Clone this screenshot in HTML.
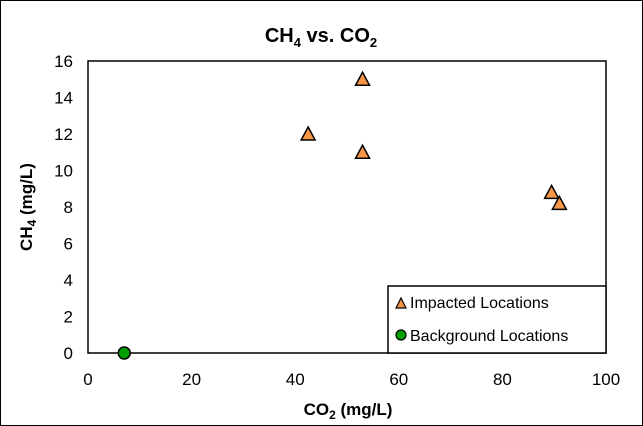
<!DOCTYPE html>
<html><head><meta charset="utf-8"><style>
html,body{margin:0;padding:0;background:#fff;}
svg{display:block;font-family:"Liberation Sans",Arial,sans-serif;}
</style></head><body>
<svg width="643" height="426" viewBox="0 0 643 426">
<rect x="0.5" y="0.5" width="642" height="425" fill="#fff" stroke="#000" stroke-width="1"/>
<text x="321" y="42" text-anchor="middle" font-size="20" font-weight="bold">CH<tspan font-size="13" dy="5">4</tspan><tspan dy="-5"> vs. CO</tspan><tspan font-size="13" dy="5">2</tspan></text>
<rect x="88" y="61" width="518" height="292" fill="none" stroke="#000" stroke-width="1.5"/>
<g id="xt"></g>
<g id="yt"></g>
<text x="348" y="415" text-anchor="middle" font-size="17" font-weight="bold">CO<tspan font-size="12" dy="4">2</tspan><tspan dy="-4"> (mg/L)</tspan></text>
<text transform="translate(32,207) rotate(-90)" text-anchor="middle" font-size="17" font-weight="bold">CH<tspan font-size="12" dy="4">4</tspan><tspan dy="-4"> (mg/L)</tspan></text>
<g id="marks"></g>
<g>
<rect x="388" y="286" width="218" height="67" fill="#fff" stroke="#000" stroke-width="1.5"/>
<polygon points="396,308 401,298 406,308" fill="#f79646" stroke="#000" stroke-width="1.2"/>
<text x="410" y="308" font-size="16">Impacted Locations</text>
<circle cx="401" cy="335" r="5" fill="#00a000" stroke="#000" stroke-width="1.2"/>
<text x="410" y="341" font-size="16">Background Locations</text>
</g>
</svg>
<script>
const xTicks=[0,20,40,60,80,100];
const yTicks=[0,2,4,6,8,10,12,14,16];
const impactedX=[42.5,53,53,89.5,91];
const impactedY=[12,15,11,8.8,8.2];
const backgroundX=[7];
const backgroundY=[0];
const NS="http://www.w3.org/2000/svg";
const sx=v=>88+v/100*518;
const sy=v=>353-v/16*292;
const xt=document.getElementById('xt'),yt=document.getElementById('yt'),m=document.getElementById('marks');
xTicks.forEach(t=>{const e=document.createElementNS(NS,'text');
e.setAttribute('x',sx(t));e.setAttribute('y',385);e.setAttribute('text-anchor','middle');e.setAttribute('font-size','17');e.textContent=t;


xt.appendChild(e);});
yTicks.forEach(t=>{const e=document.createElementNS(NS,'text');
e.setAttribute('x',73);e.setAttribute('y',sy(t)+6);e.setAttribute('text-anchor','end');e.setAttribute('font-size','17');e.textContent=t;


yt.appendChild(e);});
impactedX.forEach((x,i)=>{const cx=sx(x),cy=sy(impactedY[i]);const p=document.createElementNS(NS,'polygon');
p.setAttribute('points',`${cx-7},${cy+6} ${cx},${cy-7} ${cx+7},${cy+6}`);p.setAttribute('fill','#f79646');p.setAttribute('stroke','#000');p.setAttribute('stroke-width','1.5');


m.appendChild(p);});
backgroundX.forEach((x,i)=>{const c=document.createElementNS(NS,'circle');
c.setAttribute('cx',sx(x));c.setAttribute('cy',sy(backgroundY[i]));c.setAttribute('r',6);c.setAttribute('fill','#00a000');c.setAttribute('stroke','#000');c.setAttribute('stroke-width','1.5');


m.appendChild(c);});
</script>
</body></html>
